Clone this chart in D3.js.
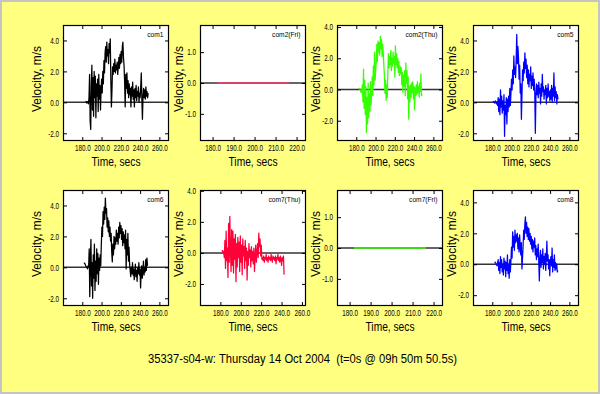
<!DOCTYPE html>
<html>
<head>
<meta charset="utf-8">
<script src="https://cdnjs.cloudflare.com/ajax/libs/d3/7.8.5/d3.min.js"></script>
<style>
body { margin: 0; background: #ffff80; }
svg { display: block; font-family: "Liberation Sans", Arial, sans-serif; }
</style>
</head>
<body>
<svg id="chart" width="600" height="394"></svg>
<script>
var titleText = "35337-s04-w: Thursday 14 Oct 2004  (t=0s @ 09h 50m 50.5s)";

var panelNames = ["com1", "com2(Fri)", "com2(Thu)", "com5", "com6", "com7(Thu)", "com7(Fri)", "com8"];

// velocity samples (m/s), evenly spread over each series' time span
var com1 = [0.0, 0.05, -0.05, 0.05, 0.0, -0.1, 0.3,
  1.8, -1.2, -1.75, 1.2, 2.4, -0.5, 1.6, -0.9, 2.0, 0.3, 1.7, -1.0, 1.2, 0.4, 1.5, -0.6, 1.8, 0.2, 1.1, -0.5, 0.8,
  1.5, 0.6, 2.0, 1.2,
  2.7, 1.9, 3.2, 3.6, 2.6, 3.9, 3.0, 3.4, 2.5, 3.8, 3.2, 4.1,
  1.5, -0.3, 0.8,
  2.3, 1.8, 2.5, 2.0, 2.8, 1.9, 2.4, 2.1, 2.6, 1.8, 2.3, 2.9, 2.2, 3.1, 2.5,
  3.3, 2.6, 3.6, 3.9, 2.9,
  2.4, 1.3, -0.3, 1.8, 0.9,
  1.9, 0.6, 1.4, 0.3, 1.2, 0.5, 0.9, -0.3, 1.0, 0.4, 1.3, 0.2, 0.8, -0.3, 0.9, 0.3, 1.1, 0.1, 0.7, 0.4, 1.0, 0.0, 0.6, 0.3,
  1.0, 1.9, 0.2, -1.1, 0.4,
  0.9, 0.3, 0.8, 0.2, 1.0, 0.4, 0.7, 0.3, 0.6];

var com2Fri = [0, 0, 0, 0, 0, 0, 0, 0, 0, 0];

var com2Thu = [0.1, 0.05, 0.0, -0.1, -0.2, -0.1,
  0.3, -0.8, 1.3, -1.2, 0.6, -1.6, 0.2, -2.75, -0.5, -2.2, 0.4, -1.8, -0.3, -1.4, 0.5, -1.0, -0.2,
  0.8, -0.4, 1.5, 0.3, 2.4, 0.6, 1.2, 1.8,
  2.9, 1.8, 3.1, 2.4, 3.0, 2.2, 3.4, 2.6, 3.2, 2.1, 2.9, 2.4, 1.6,
  0.9, -0.25, 0.6, -0.7, 0.3, -0.5, 1.2,
  2.3, 1.4, 2.1, 1.6, 2.5, 1.2, 2.0, 1.5, 2.4, 1.7, 2.1, 0.8, 2.8, 1.6, 2.3, 1.4, 2.0, 1.1, 1.8, 0.9, 1.5, 1.0,
  1.4, 0.3, 1.1, -0.2, 0.9, 0.2, 1.2, -0.4, 1.7, 0.4, 1.2, -0.6, 0.8, -1.9, 0.2, -0.8, 0.3,
  -0.5, 0.4, -0.2, 0.5, -0.6, 0.2, -1.3, 0.1, -0.4, 0.3, -0.3, 0.5, -0.2, 0.2, -0.5, 0.4, -0.1, 1.0, -0.4, -0.3];

var com5 = [0.0, 0.05, 0.0, -0.05, 0.1, 0.0, -0.1, 0.05, -0.2,
  0.3, -0.6, 0.2, -0.8, 0.8, -0.3, 0.4, -0.7, 0.1, -0.5, 0.5, -2.2, -0.2, -0.8, 0.3, -1.4, 0.2, -0.6, 0.4, -0.3, 0.9, -0.2, 0.6,
  1.5, 0.8, 2.1, 1.2, 3.0, 1.8, 2.3, 1.6, 2.8,
  4.4, 2.5, 3.6,
  2.9, 1.5, 2.4, 0.6, 1.2, -1.1,
  0.5, 2.1, 1.4, 2.6, 1.9, 3.2, 2.2, 2.8,
  1.6, 2.4, 1.2, 2.1, 1.0, 1.8, 1.4, 2.3, 0.9, 1.7, 1.1, 1.9, 0.8, 1.5, 0.6,
  -2.0, 0.4, 1.2,
  0.5, 1.1, 0.3, 1.3, 0.6, 0.9, -0.1, 1.2, 0.4, 1.8, 0.7, 1.0, 0.2, 0.8, 0.5, 1.1, -0.1, 0.9, 0.3, 1.2, 0.4, 0.7, 0.1,
  0.8, 0.2, 1.1, 0.0, 0.9, 0.4, 1.9, 0.1, 1.0, 0.3, 0.7, -0.1, 0.5, 0.2];

var com6 = [0.3, 0.25, 0.2, 0.1, 0.05, 0.0, -0.1, 0.1, 0.0,
  1.2, -1.9, 0.5, 1.8, -1.2, 0.3, -2.0, 0.8, -0.7, 1.5, -1.5, 0.4, -0.9, 1.2, -0.4, 0.9, -1.1, 0.6, -0.2, 0.8, 0.1,
  1.5, 2.6, 2.0, 3.6, 2.8, 3.9, 3.1, 4.48, 3.5,
  3.8, 2.6, 3.2, 2.3, 3.0, 2.0, 2.6, 1.7, 2.2,
  1.0, 0.35, 1.5, 0.8, 2.0, 1.2,
  1.9, 1.5, 2.4, 1.7, 2.2, 1.5, 2.6, 1.9, 2.9, 2.2, 2.7, 1.8, 2.5, 1.4, 2.3, 1.6, 2.1,
  1.2, 2.4, -0.1, 1.8, 0.8, 2.2, 0.4, 1.3, 0.2,
  -0.2, -0.6, 0.0, -0.4, 0.3, -0.5, -0.1, -0.8, -0.3, 0.2, -0.6, -0.2, -0.9, 0.0, -0.4, 0.3, -0.5, -0.1, -1.33, -0.3, 0.1, -0.7, -0.2, 0.4, -0.5, 0.0, -0.3, 0.5, -0.2, 0.6, 0.1];

var com7Thu = [0.1, 0.15, 0.0, 0.1,
  -0.3, 0.8, -1.0, 1.4, -0.5, 0.3, -1.58, 1.9, -0.6, 2.35, 0.2, -1.2, 1.5,
  -0.8, 1.4, -1.3, 0.9, -0.4, 1.2, -1.85, 0.6, -0.9, 1.0, -0.3,
  0.7, -1.2, 1.1, -0.6, 0.5, -1.4, 0.9, -0.2, 0.4, -1.0, 0.8, -0.5, 0.3, -1.75,
  0.1, -0.8, 0.6, -0.3, 0.2, -0.9, 0.4, -0.5, 0.1, -0.7, 0.3, -1.2, -0.2, 0.5, -0.6, 0.0,
  0.6, -0.3, 1.28, 0.4, 0.9, -0.2, 0.5, -0.4,
  -0.3, -0.5, -0.2, -0.6, -0.3, -0.4, -0.1, -0.5, -0.3, -0.6, -0.2, -0.4, -0.3, -0.5, -0.1, -0.4, -0.6, -0.2,
  -0.4, -0.3, -0.5, -0.2, -0.7, -0.3, -0.4, -0.1, -0.5, -0.3, -0.6, -0.2, -0.4, -0.8, -0.3, -0.5, -0.2, -1.4];

var com7Fri = [0, 0, 0, 0, 0, 0, 0, 0, 0, 0];

var com8 = [0.17, 0.1, 0.05, 0.0, -0.1, 0.05,
  0.3, -0.4, 0.1, -0.6, 0.5, -0.2, 0.3, -0.5, 0.0, -0.7, 0.4, -0.3, 0.2, -0.8, 0.1, -0.4, 0.6, -0.6, 0.0, -0.9, 0.3, -0.5, 0.2,
  1.1, 0.4, 2.1, 1.1, 1.8, 0.9, 2.2, 1.4, 1.9,
  1.5, 2.0, 1.0, 1.7, 0.8, 1.9, 1.2, 0.6, 1.4,
  -0.3, 0.4, 1.2,
  2.2, 1.6, 2.6, 3.07, 2.0, 2.7, 1.8, 2.4, 1.6, 2.3, 1.5,
  2.0, 1.3, 1.8, 1.0, 1.6, 0.8, 1.5, 1.1, 1.7, 0.6, 1.2, 0.3, 1.0, 0.5, 1.3, 0.2, -1.08,
  0.4, 0.9, -0.2, 0.6, 0.1, 1.0, -0.3, 0.5, 0.0, 0.7, -0.4, 0.4, 1.5, 0.2, 0.6, -0.3, 0.3, -0.75, 0.2, 0.5, -0.1, 1.05, -0.5, 0.3, -0.2, 0.6, -0.4, 0.1, -0.3, 0.0, -0.5, -0.4];

var seriesValues = [com1, com2Fri, com2Thu, com5, com6, com7Thu, com7Fri, com8];

// first and last time (secs) of each series
var seriesSpans = [[183.4, 248.4], [182.3, 216.4], [182.7, 248.3], [180.7, 248.2],
                   [181.8, 247.7], [181.4, 242.5], [182.1, 216.4], [182.5, 248.1]];

var xDomains = [[160, 270], [174, 224.5], [160, 270], [160, 270],
                [160, 270], [160, 264], [174, 224.5], [160, 270]];
var yDomains = [[-2.5, 5], [-1.88, 1.88], [-3.3, 4.13], [-2.5, 5],
                [-2.5, 5], [-3.42, 4.05], [-1.88, 1.88], [-2.7, 4.8]];

var wideTimeTicks = [180, 200, 220, 240, 260];
var shortTimeTicks = [180, 190, 200, 210, 220];
var bigVelTicks = [-2, 0, 2, 4];
var smallVelTicks = [-1, 0, 1];

var seriesColors = ["#000000", "#ff3868", "#33ff00", "#0000ff", "#000000", "#ff0038", "#33ff00", "#0000ff"];

// layout
var colLeft = [63, 200, 337, 473],
    rowTop = [25, 190],
    plotW = 106,
    plotH = 116,
    yLabelOffset = [26, 21, 21, 21];

var svg = d3.select("#chart");

svg.append("rect")
  .attr("x", 1).attr("y", 1)
  .attr("width", 598).attr("height", 392)
  .attr("fill", "#ffff80")
  .attr("stroke", "#c4c4c4")
  .attr("stroke-width", 2);

var fmt = function(d){ return d.toFixed(1); };

function narrow(sel, factor){
  sel.each(function(){
    var w = this.getComputedTextLength();
    d3.select(this).attr("textLength", w * factor).attr("lengthAdjust", "spacingAndGlyphs");
  });
}

function styleAxis(ax){
  ax.attr("font-family", null).attr("font-size", 8.5);
  ax.select(".domain").remove();
  ax.selectAll("line").attr("stroke", "#000");
  ax.selectAll("text").attr("fill", "#000");
  narrow(ax.selectAll("text"), 0.74);
}

panelNames.forEach(function(name, i){
  var col = i % 4, row = Math.floor(i / 4);
  var left = colLeft[col], top = rowTop[row];
  var isShort = (i === 1 || i === 6);

  var x = d3.scaleLinear().domain(xDomains[i]).range([0, plotW]);
  var y = d3.scaleLinear().domain(yDomains[i]).range([plotH, 0]);
  var xt = isShort ? shortTimeTicks : wideTimeTicks;
  var yt = isShort ? smallVelTicks : bigVelTicks;

  var g = svg.append("g").attr("transform", "translate(" + left + "," + top + ")");

  g.append("rect")
    .attr("width", plotW).attr("height", plotH)
    .attr("fill", "#fff");

  // zero line
  g.append("line")
    .attr("x1", 0).attr("x2", plotW)
    .attr("y1", y(0)).attr("y2", y(0))
    .attr("stroke", "#333")
    .attr("stroke-width", 1.5);

  // velocity trace
  var vals = seriesValues[i], span = seriesSpans[i];
  var step = (span[1] - span[0]) / (vals.length - 1);
  var line = d3.line()
    .x(function(d, j){ return x(span[0] + j * step); })
    .y(function(d){ return y(d); });

  g.append("path")
    .datum(vals)
    .attr("d", line)
    .attr("fill", "none")
    .attr("stroke", seriesColors[i])
    .attr("stroke-width", isShort ? 1.5 : 1.25)
    .attr("stroke-linejoin", "round");

  // axes, ticks inward on all four sides
  var bx = g.append("g").attr("transform", "translate(0," + plotH + ")")
    .call(d3.axisBottom(x).tickValues(xt).tickSize(-4).tickPadding(3.5).tickFormat(fmt));
  styleAxis(bx);
  var tx = g.append("g")
    .call(d3.axisTop(x).tickValues(xt).tickSize(-4).tickFormat(""));
  styleAxis(tx);
  var ly = g.append("g")
    .call(d3.axisLeft(y).tickValues(yt).tickSize(-4).tickPadding(4).tickFormat(fmt));
  styleAxis(ly);
  var ry = g.append("g").attr("transform", "translate(" + plotW + ",0)")
    .call(d3.axisRight(y).tickValues(yt).tickSize(-4).tickFormat(""));
  styleAxis(ry);

  g.append("rect")
    .attr("x", 0.5).attr("y", 0.5)
    .attr("width", plotW - 1).attr("height", plotH - 1)
    .attr("fill", "none")
    .attr("stroke", "#000")
    .attr("stroke-width", 1.2);

  // series name
  var lab = g.append("text")
    .attr("x", plotW - 5.5)
    .attr("y", 11.5)
    .attr("text-anchor", "end")
    .attr("font-size", 8)
    .attr("fill", "#000")
    .text(name);
  narrow(lab, 0.83);

  // axis titles
  g.append("text")
    .attr("transform", "translate(" + (-yLabelOffset[col]) + "," + (plotH / 2 - 4) + ") rotate(-90)")
    .attr("text-anchor", "middle")
    .attr("dy", "0.35em")
    .attr("font-size", 12.5)
    .attr("fill", "#000")
    .attr("textLength", 66)
    .attr("lengthAdjust", "spacingAndGlyphs")
    .text("Velocity, m/s");

  g.append("text")
    .attr("x", plotW / 2)
    .attr("y", plotH + 25)
    .attr("text-anchor", "middle")
    .attr("font-size", 12.5)
    .attr("fill", "#000")
    .attr("textLength", 49)
    .attr("lengthAdjust", "spacingAndGlyphs")
    .text("Time, secs");
});

svg.append("text")
  .attr("x", 148)
  .attr("y", 362.5)
  .attr("font-size", 12)
  .attr("fill", "#000")
  .style("white-space", "pre")
  .attr("textLength", 309)
  .attr("lengthAdjust", "spacingAndGlyphs")
  .text(titleText);
</script>
</body>
</html>
